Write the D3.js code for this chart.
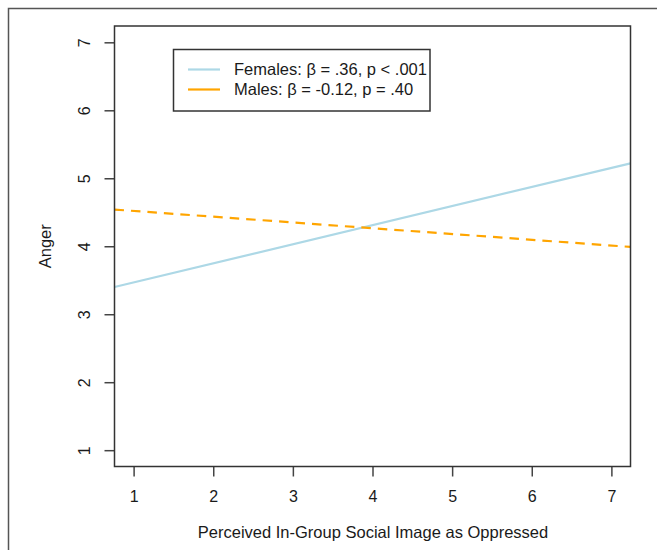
<!DOCTYPE html>
<html>
<head>
<meta charset="utf-8">
<script src="https://cdn.jsdelivr.net/npm/d3@7"></script>
<style>
  html, body { margin: 0; padding: 0; background: #fff; }
  svg { display: block; }
  text { font-family: "Liberation Sans", Arial, sans-serif; fill: #1a1a1a; }
</style>
</head>
<body>
<svg id="chart" width="657" height="550"></svg>
<script>
// Data
const xEnds = [0.76, 7.24];           // x positions at the plot edges
const femalesY = [3.40, 5.22];        // Females fitted line values at the edges
const malesY = [4.54, 3.99];          // Males fitted line values at the edges
const xTicks = [1, 2, 3, 4, 5, 6, 7];
const yTicks = [1, 2, 3, 4, 5, 6, 7];
const seriesNames = ["Females: β = .36, p < .001", "Males: β = -0.12, p = .40"];
const seriesColors = ["#ADD8E6", "#FFA500"];
const xTitle = "Perceived In-Group Social Image as Oppressed";
const yTitle = "Anger";

(function () {
const svg = d3.select("#chart");
const pl = 114.5, pr = 630.5, pt = 26, pb = 466.5;
const FONT = '"Liberation Sans", Arial, sans-serif';

// outer frame
svg.append("path")
  .attr("d", "M8.5,560 L8.5,8.5 L670,8.5")
  .attr("fill", "none").attr("stroke", "#555").attr("stroke-width", 1.5);

const x = d3.scaleLinear().domain([0.76, 7.24]).range([pl, pr]);
const y = d3.scaleLinear().domain([0.76, 7.24]).range([pb, pt]);

// clip
svg.append("clipPath").attr("id", "clip")
  .append("rect").attr("x", pl).attr("y", pt)
  .attr("width", pr - pl).attr("height", pb - pt);

// axes
const xAxis = svg.append("g").attr("transform", `translate(0,${pb})`)
  .call(d3.axisBottom(x).tickValues(xTicks).tickSize(10).tickPadding(0).tickFormat(d3.format("d")));
const yAxis = svg.append("g").attr("transform", `translate(${pl},0)`)
  .call(d3.axisLeft(y).tickValues(yTicks).tickSize(10).tickPadding(0).tickFormat(d3.format("d")));
[xAxis, yAxis].forEach(g => {
  g.attr("font-size", null).attr("font-family", null);
  g.select(".domain").remove();
  g.selectAll(".tick line").attr("stroke", "#444").attr("stroke-width", 1.5);
  g.selectAll(".tick text")
    .style("font-size", "16px").style("font-family", FONT).attr("fill", "#1a1a1a");
});
xAxis.selectAll(".tick text").attr("y", 30).attr("dy", "0.35em");
yAxis.selectAll(".tick text")
  .attr("x", null)
  .attr("text-anchor", "middle")
  .attr("transform", "translate(-30,0) rotate(-90)")
  .attr("dy", "0.35em");

// series lines
const lineGen = d3.line().x(d => x(d[0])).y(d => y(d[1]));
const gLines = svg.append("g").attr("clip-path", "url(#clip)");
gLines.append("path")
  .datum(xEnds.map((v, i) => [v, femalesY[i]]))
  .attr("d", lineGen).attr("fill", "none")
  .attr("stroke", seriesColors[0]).attr("stroke-width", 2.2);
gLines.append("path")
  .datum(xEnds.map((v, i) => [v, malesY[i]]))
  .attr("d", lineGen).attr("fill", "none")
  .attr("stroke", seriesColors[1]).attr("stroke-width", 2.2)
  .attr("stroke-dasharray", "9.5,7");

// plot box
svg.append("rect")
  .attr("x", pl).attr("y", pt).attr("width", pr - pl).attr("height", pb - pt)
  .attr("fill", "none").attr("stroke", "#333").attr("stroke-width", 1.5);

// legend
const lg = svg.append("g");
lg.append("rect").attr("x", 173.5).attr("y", 49.5).attr("width", 256.5).attr("height", 61.5)
  .attr("fill", "#fff").attr("stroke", "#333").attr("stroke-width", 1.5);
seriesNames.forEach((name, i) => {
  const yy = 69.5 + i * 20;
  lg.append("line").attr("x1", 188).attr("x2", 220).attr("y1", yy).attr("y2", yy)
    .attr("stroke", seriesColors[i]).attr("stroke-width", 2.2);
  lg.append("text").attr("x", 234).attr("y", yy).attr("dy", "0.35em")
    .style("font-size", "16.5px").text(name);
});

// titles
svg.append("text").attr("x", 373).attr("y", 538)
  .attr("text-anchor", "middle").style("font-size", "16.5px").text(xTitle);
svg.append("text").attr("transform", `translate(51,${(pt + pb) / 2}) rotate(-90)`)
  .attr("text-anchor", "middle").style("font-size", "16.5px").text(yTitle);
})();
</script>
</body>
</html>
